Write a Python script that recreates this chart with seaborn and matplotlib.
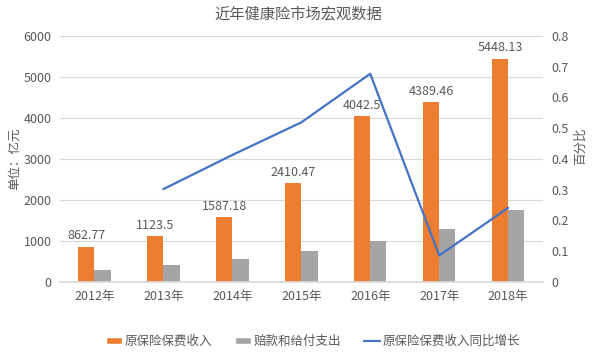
import numpy as np
import pandas as pd
import seaborn as sns
import matplotlib.pyplot as plt
from matplotlib.patches import Patch
from matplotlib.lines import Line2D

YEARS    = ["2012年", "2013年", "2014年", "2015年", "2016年", "2017年", "2018年"]
PREMIUM  = [862.77, 1123.5, 1587.18, 2410.47, 4042.5, 4389.46, 5448.13]
PREM_TXT = ["862.77", "1123.5", "1587.18", "2410.47", "4042.5", "4389.46", "5448.13"]
CLAIMS   = [298, 411, 571, 763, 1001, 1295, 1744]
GROWTH   = [np.nan, 0.302, 0.413, 0.519, 0.677, 0.086, 0.241]

S_PREM  = "原保险保费收入"
S_CLAIM = "赔款和给付支出"
S_GROW  = "原保险保费收入同比增长"

ORANGE, GREY, BLUE = "#ED7D31", "#A5A5A5", "#4472C4"
TXT = "#595959"

df = pd.DataFrame({"year": YEARS * 2,
                   "value": PREMIUM + CLAIMS,
                   "series": [S_PREM] * len(YEARS) + [S_CLAIM] * len(YEARS)})

sns.set_theme(style="white")
plt.rcParams["font.family"] = ["Noto Sans CJK SC", "DejaVu Sans"]

fig = plt.figure(figsize=(5.96, 3.56), dpi=100)
ax = fig.add_axes([0.1007, 0.208, 0.8097, 0.691])

sns.barplot(data=df, x="year", y="value", hue="series", order=YEARS,
            hue_order=[S_PREM, S_CLAIM], palette=[ORANGE, GREY], saturation=1,
            width=0.47, gap=0, linewidth=0, legend=False, ax=ax)
ax.bar_label(ax.containers[0], labels=PREM_TXT, padding=3, fontsize=9, color=TXT)

ax.set_ylim(0, 6000)
ax.set_yticks(range(0, 6001, 1000))
ax.set_xlim(-0.5, len(YEARS) - 0.5)
ax.grid(axis="y", color="#D9D9D9", linewidth=0.8)
ax.set_axisbelow(True)
for s in ("top", "left", "right"):
    ax.spines[s].set_visible(False)
ax.spines["bottom"].set_color("#D9D9D9")
ax.tick_params(axis="both", labelsize=9, colors=TXT, length=0, pad=6)
ax.set_xlabel("")
ax.set_ylabel("单位：亿元", fontsize=9, color=TXT)
ax.yaxis.set_label_coords(-0.08, 0.5)

ax2 = ax.twinx()
sns.lineplot(x=np.arange(len(YEARS)), y=GROWTH, color=BLUE, linewidth=1.6, ax=ax2)
ax2.set_ylim(0, 0.8)
ax2.set_yticks(np.arange(0, 0.81, 0.1))
ax2.set_yticklabels(["0"] + [f"{v:.1f}" for v in np.arange(0.1, 0.81, 0.1)])
for s in ax2.spines.values():
    s.set_visible(False)
ax2.tick_params(axis="y", labelsize=9, colors=TXT, length=0, pad=6)
ax2.set_ylabel("百分比", fontsize=9, color=TXT, rotation=90)
ax2.yaxis.set_label_coords(1.064, 0.55)
ax2.grid(False)

fig.suptitle("近年健康险市场宏观数据", y=0.985, fontsize=11, color=TXT)

handles = [Patch(facecolor=ORANGE, label=S_PREM),
           Patch(facecolor=GREY, label=S_CLAIM),
           Line2D([0], [0], color=BLUE, linewidth=1.6, label=S_GROW)]
fig.legend(handles=handles, loc="center", bbox_to_anchor=(0.525, 0.04), ncol=3,
           frameon=False, fontsize=9, labelcolor=TXT, handlelength=1.3,
           handleheight=0.5, handletextpad=0.2, columnspacing=1.8)

fig.savefig("out.png", dpi=100)
